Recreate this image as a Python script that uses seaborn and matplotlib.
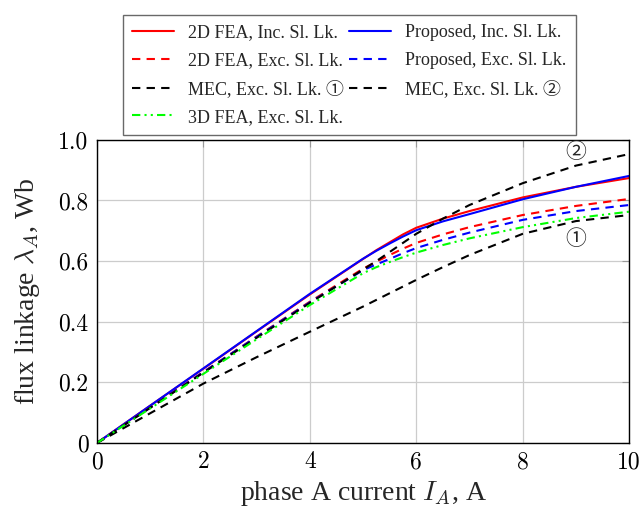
import seaborn as sns
import matplotlib.pyplot as plt
from matplotlib.ticker import FixedLocator, FixedFormatter

# phase current, A
current = [0, 1, 2, 3, 4, 5, 5.25, 5.5, 5.75, 6, 6.5, 7, 8, 9, 10]

fea2d_inc = [0, 0.123, 0.245, 0.368, 0.49, 0.607, 0.636, 0.662, 0.688, 0.71, 0.74, 0.765, 0.81, 0.845, 0.874]
prop_inc = [0, 0.123, 0.246, 0.369, 0.492, 0.608, 0.634, 0.658, 0.681, 0.702, 0.731, 0.755, 0.804, 0.845, 0.881]
fea2d_exc = [0, 0.117, 0.234, 0.351, 0.466, 0.575, 0.598, 0.62, 0.641, 0.66, 0.688, 0.712, 0.752, 0.782, 0.805]
prop_exc = [0, 0.117, 0.234, 0.35, 0.464, 0.57, 0.589, 0.607, 0.626, 0.643, 0.67, 0.694, 0.736, 0.765, 0.785]
mec_1 = [0, 0.098, 0.196, 0.283, 0.367, 0.45, 0.472, 0.494, 0.516, 0.538, 0.58, 0.62, 0.69, 0.732, 0.752]
mec_2 = [0, 0.116, 0.232, 0.347, 0.462, 0.572, 0.6, 0.63, 0.66, 0.69, 0.74, 0.785, 0.857, 0.915, 0.953]
fea3d_exc = [0, 0.114, 0.228, 0.342, 0.455, 0.56, 0.58, 0.597, 0.613, 0.628, 0.653, 0.675, 0.712, 0.742, 0.763]

xticks = [0, 2, 4, 6, 8, 10]
yticks = [0, 0.2, 0.4, 0.6, 0.8, 1.0]
ytick_labels = ["0", "0.2", "0.4", "0.6", "0.8", "1.0"]

sns.set_style("white")
plt.rcParams["font.family"] = ["Liberation Serif", "Noto Sans CJK JP", "DejaVu Sans"]
plt.rcParams["mathtext.fontset"] = "cm"

fig = plt.figure(figsize=(6.42, 5.16), dpi=100)
ax = fig.add_axes([0.151, 0.1415, 0.829, 0.5875])

dash = (0, (4, 3))
series = [
    (fea2d_inc, "red", "-", "2D FEA, Inc. Sl. Lk."),
    (prop_inc, "blue", "-", "Proposed, Inc. Sl. Lk."),
    (fea2d_exc, "red", dash, "2D FEA, Exc. Sl. Lk."),
    (prop_exc, "blue", dash, "Proposed, Exc. Sl. Lk."),
    (mec_1, "black", dash, "MEC, Exc. Sl. Lk. ①"),
    (mec_2, "black", dash, "MEC, Exc. Sl. Lk. ②"),
    (fea3d_exc, "#00ff00", (0, (4, 2, 1, 2, 1, 2)), "3D FEA, Exc. Sl. Lk."),
]
for vals, col, ls, lab in series:
    sns.lineplot(x=current, y=vals, ax=ax, color=col, linestyle=ls, linewidth=1.5, label=lab, legend=False)

ax.set_xlim(0, 10)
ax.set_ylim(0, 1.0)
ax.xaxis.set_major_locator(FixedLocator(xticks))
ax.yaxis.set_major_locator(FixedLocator(yticks))
ax.yaxis.set_major_formatter(FixedFormatter(ytick_labels))
ax.grid(True, color="#cccccc", linewidth=0.9)
ax.tick_params(direction="in", length=5, color="#999999", top=True, right=True,
               labelsize=17, pad=6, labelcolor="black", labelfontfamily="cmr10")
for sp in ax.spines.values():
    sp.set_color("black")
    sp.set_linewidth(1.0)

ax.set_xlabel("phase A current $I_A$, A", fontsize=20, labelpad=4)
ax.set_ylabel("flux linkage $\\lambda_A$, Wb", fontsize=20, labelpad=12)

ax.text(9.0, 0.957, "②", fontsize=15, ha="center", va="center")
ax.text(9.0, 0.67, "①", fontsize=15, ha="center", va="center")

h, l = ax.get_legend_handles_labels()
order = [0, 2, 4, 6, 1, 3, 5]
leg = fig.legend([h[i] for i in order], [l[i] for i in order], ncol=2,
                 loc="upper center", bbox_to_anchor=(0.544, 0.988),
                 fontsize=13, frameon=True, fancybox=False, edgecolor="#444444",
                 handlelength=2.3, columnspacing=0.3, labelspacing=0.6,
                 borderpad=0.5, handletextpad=0.8)
leg.get_frame().set_linewidth(1.0)

fig.savefig("out.png", dpi=100)
